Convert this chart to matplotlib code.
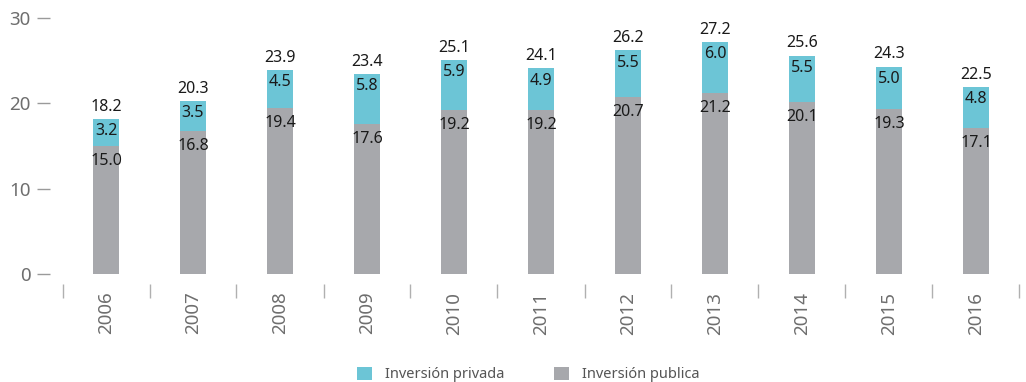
import matplotlib.pyplot as plt
import numpy as np

plt.rcParams['font.family'] = ['Noto Sans', 'DejaVu Sans']

years = ['2006', '2007', '2008', '2009', '2010', '2011', '2012', '2013', '2014', '2015', '2016']
publica = [15.0, 16.8, 19.4, 17.6, 19.2, 19.2, 20.7, 21.2, 20.1, 19.3, 17.1]
privada = [3.2, 3.5, 4.5, 5.8, 5.9, 4.9, 5.5, 6.0, 5.5, 5.0, 4.8]
totales = [18.2, 20.3, 23.9, 23.4, 25.1, 24.1, 26.2, 27.2, 25.6, 24.3, 22.5]

c_priv = '#6cc5d6'
c_pub = '#a7a8ac'
c_txt = '#6e6e6e'

fig = plt.figure(figsize=(10.26, 3.82), dpi=100)
ax = fig.add_axes([62.5 / 1026, 108 / 382, 957 / 1026, 256 / 382])

x = np.arange(len(years))
pub = np.array(publica)
priv = np.array(privada)
ax.bar(x, pub, width=0.3, color=c_pub, label='Inversión publica')
ax.bar(x, priv, width=0.3, bottom=pub, color=c_priv, label='Inversión privada')

# total above the bar, private share at the top of the cyan part, public just under it
for i in range(len(years)):
    top = pub[i] + priv[i]
    ax.annotate(f'{totales[i]:.1f}', (x[i], top), xytext=(0, 3), textcoords='offset points',
                ha='center', va='bottom', fontsize=11.5, color='#1a1a1a')
    ax.annotate(f'{privada[i]:.1f}', (x[i], top), xytext=(0, -3), textcoords='offset points',
                ha='center', va='top', fontsize=11.5, color='#1a1a1a')
    ax.annotate(f'{publica[i]:.1f}', (x[i], pub[i]), xytext=(0, -5), textcoords='offset points',
                ha='center', va='top', fontsize=11.5, color='#1a1a1a')

ax.set_xlim(-0.5, len(years) - 0.5)
ax.set_ylim(0, 30)
ax.set_yticks([0, 10, 20, 30])

for s in ['top', 'right']:
    ax.spines[s].set_visible(False)
ax.spines['left'].set_position(('outward', 9))
ax.spines['left'].set_visible(False)
ax.spines['bottom'].set_position(('outward', 7.2))
ax.spines['bottom'].set_visible(False)

ax.tick_params(axis='y', length=9.4, width=1, color='#9a9a9a', pad=4.5,
               labelsize=13.5, labelcolor=c_txt)
ax.set_xticks(x)
ax.set_xticklabels(years, rotation=90)
ax.tick_params(axis='x', which='major', length=0, pad=5.5, labelsize=13.5, labelcolor=c_txt)
ax.set_xticks(np.arange(-0.5, len(years), 1.0), minor=True)
ax.tick_params(axis='x', which='minor', length=10, width=1, color='#b0b0b0')

handles, labels = ax.get_legend_handles_labels()
fig.legend(handles[::-1], labels[::-1], loc='lower center', bbox_to_anchor=(0.515, -0.035),
           ncol=2, frameon=False, fontsize=10.5, labelcolor='#555555',
           handlelength=1.0, handleheight=1.0, handletextpad=0.9, columnspacing=3.4)

fig.savefig('out.png', dpi=100)
